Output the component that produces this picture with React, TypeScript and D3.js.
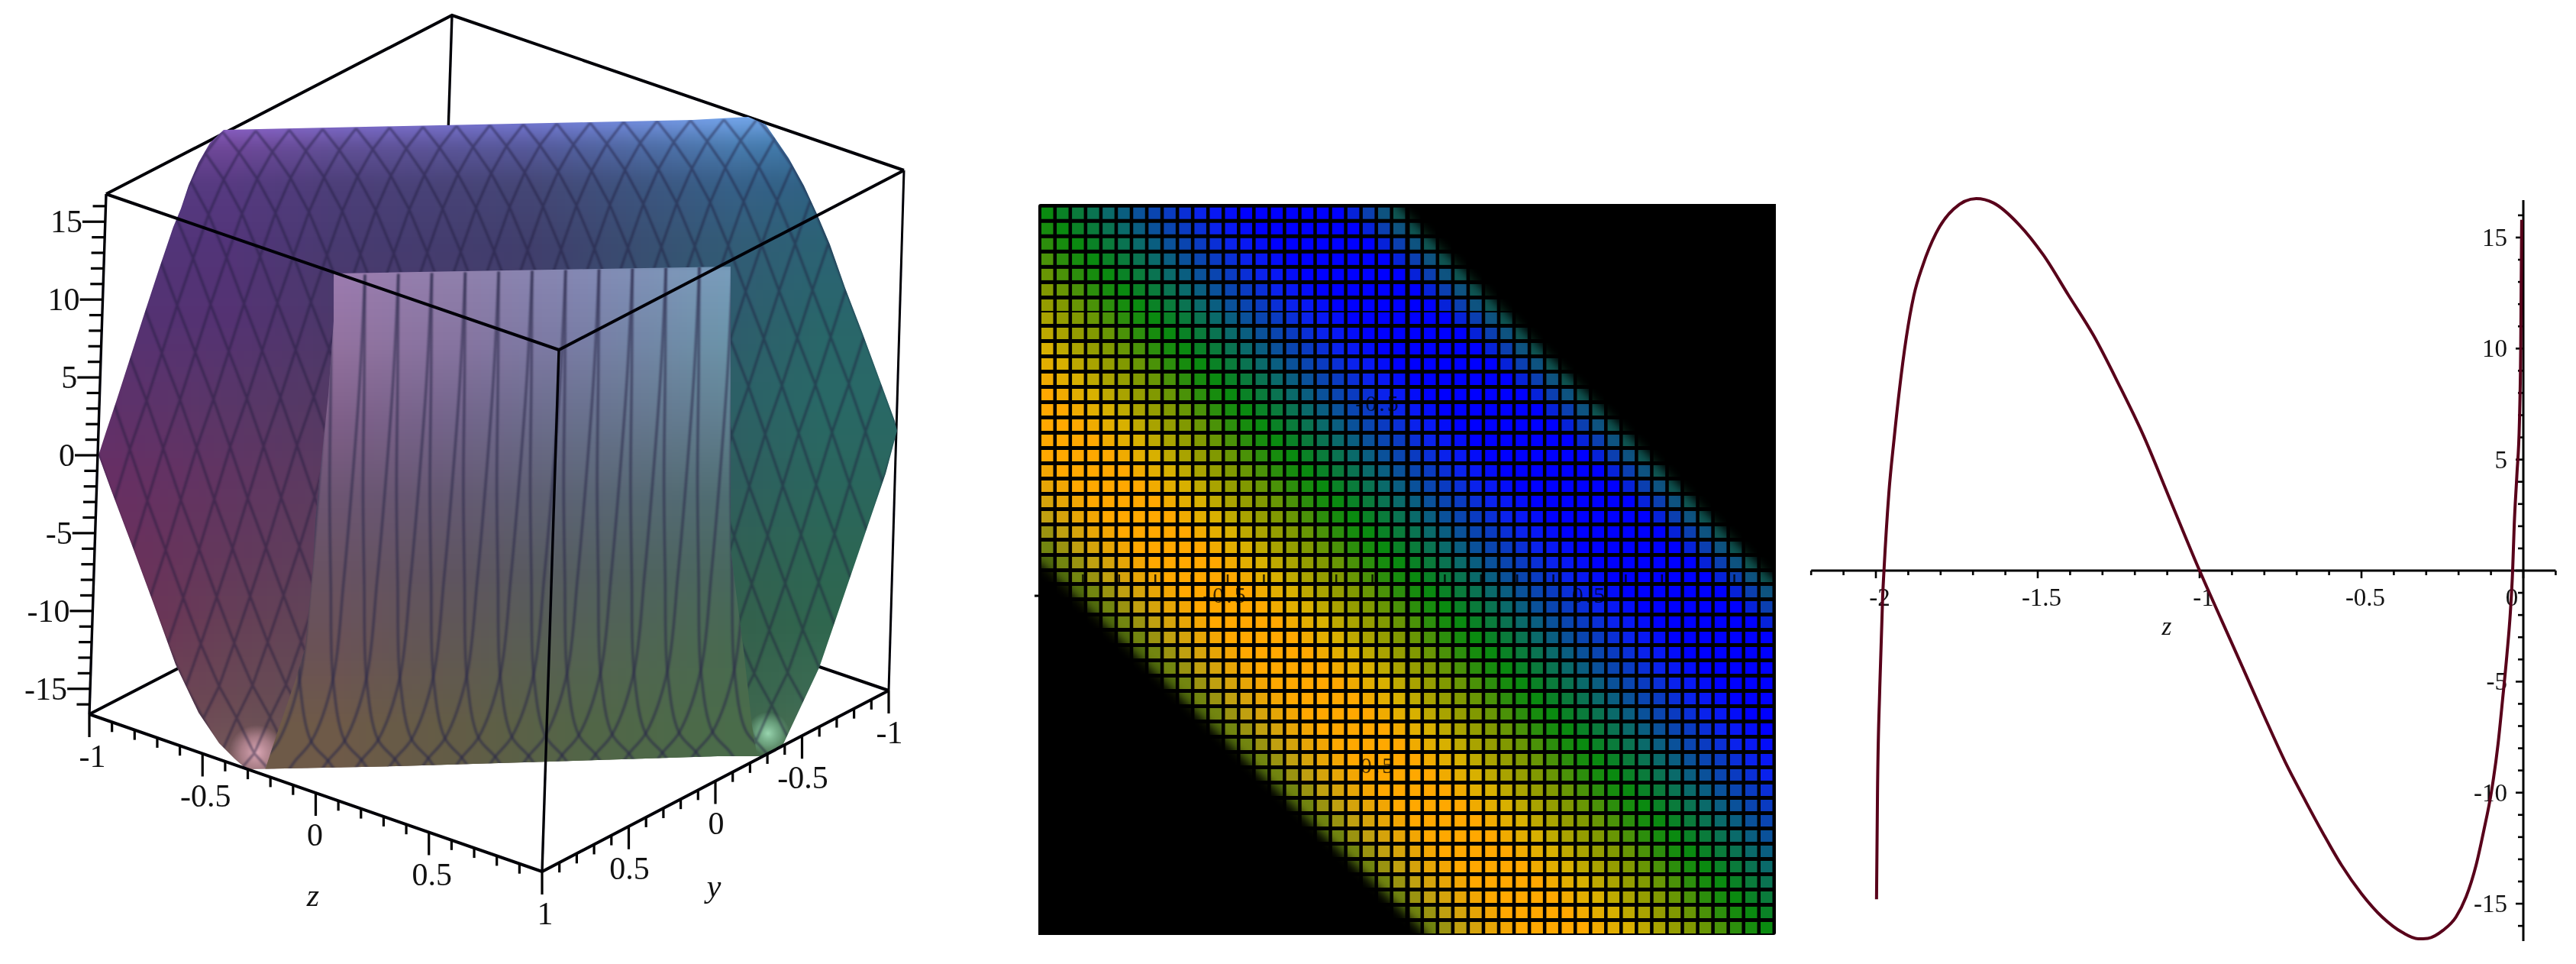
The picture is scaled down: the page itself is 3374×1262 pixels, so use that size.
import React from "react";
import * as d3 from "d3";

// ---------- left panel: 3-D box axes ----------
const boxAxisTicks = [-1, -0.9, -0.8, -0.7, -0.6, -0.5, -0.4, -0.3, -0.2, -0.1, 0, 0.1, 0.2, 0.3, 0.4, 0.5, 0.6, 0.7, 0.8, 0.9, 1];
const boxAxisLabels = [-1, -0.5, 0, 0.5, 1];
const heightTicks = d3.range(-16, 17);
const heightLabels = [-15, -10, -5, 0, 5, 10, 15];

// silhouette of the surface
const outlineX = [293,275,260,247,237,227,209,187,171,153,139,129,145,174,201,230,260,287,307,323,520,720,940,1001,1025,1073,1160,1175,1172,1130,1107,1087,1070,1053,1033,1003,980,907];
const outlineY = [170,187,213,243,273,297,350,417,467,523,565,596,640,717,790,870,933,973,993,1007,1003,997,990,990,976,874,620,564,551,437,377,320,280,243,207,163,153,157];
const innerX = [437,957,957,975,985,992,347,363,387,400,410,413,419,430,437];
const innerY = [358,349,720,860,950,992,1008,960,890,847,740,680,620,517,420];

// mesh crossings
const meshRowY = [172,200,235,280,337,398,460,522,585,653,718,781,842,898,940,987,1012];
const meshRowStart = [335,313,293,317,253,232,212,192,170,193,217,240,263,287,310,333,355];
const innerMeshY = [358,500,640,760,887,967,993,1012];
const innerMeshLeft = [0,-7,-17.5,-28,-42,-70,-92,-105];
const innerMeshRight = [0,-1,-2.5,-1,2,17,39,52];
const innerMeshStart = d3.range(-2, 13).map((k) => 478 + 43.8 * k);

// colour samples of the surface
const outerColX = [120,300,440,700,960,1080,1190];
const outerRowY = [150,190,240,320,420,520,620,720,820,920,1010];
const outerColours = [
  ["#9a70e0","#9a70e0","#8a74e0","#7a80e0","#78a8f0","#70a8e8","#70a8e8"],
  ["#70489a","#70489a","#625098","#565a9c","#4a7cb0","#3a78a8","#3a78a8"],
  ["#563a80","#563a80","#4c3e78","#444676","#366088","#2f6284","#2f6284"],
  ["#523478","#523478","#483a70","#403e6c","#325c76","#2b6274","#2b6274"],
  ["#543272","#543272","#4c386a","#42406a","#2e5c6c","#29666a","#29666a"],
  ["#5e306c","#583668","#523964","#4c406a","#2c6066","#296866","#296866"],
  ["#672e64","#603562","#5a3b60","#52405e","#2e5e5e","#2a665e","#2a665e"],
  ["#6c2e5c","#62385c","#5e3f5c","#56445c","#306054","#2c6654","#2c6654"],
  ["#6e2e56","#663f56","#604656","#584b56","#34604c","#2f664e","#2f664e"],
  ["#703e54","#6a4a54","#644f54","#5c5054","#3a644c","#3e6c54","#3e6c54"],
  ["#7a5060","#765a5a","#6c5850","#5e5a48","#4a6c4a","#5a7a55","#5a7a55"],
];
const innerColX = [340,440,600,760,960,1000];
const innerRowY = [350,450,550,650,750,850,950,1010];
const innerColours = [
  ["#9c7cb0","#9c7cb0","#9080ac","#8488b4","#789ebc","#789ebc"],
  ["#92729f","#92729f","#8674a0","#787ca4","#6a94a8","#6a94a8"],
  ["#7e5f88","#7e5f88","#72648a","#68708c","#608090","#608090"],
  ["#6c5572","#6c5572","#645972","#5b6474","#4e6e72","#4e6e72"],
  ["#685262","#685262","#5e5460","#545e60","#48685e","#48685e"],
  ["#6a5256","#6a5256","#605853","#546253","#486a50","#486a50"],
  ["#6e5a48","#6e5a48","#625c46","#526547","#4a6c4a","#4a6c4a"],
  ["#6e5a48","#6e5a48","#625c46","#526547","#4a6c4a","#4a6c4a"],
];

// ---------- middle panel: density grid ----------
const gridCols = d3.range(48);
const gridRows = d3.range(48);
// one value per diagonal (column - row), from -47 to 47
const diagonalValues = [
  -2,-2,-2,-2,-2,-2,-2,-2,-2,-2,-2,-2,-2,-2,-2,-2,-2,-2,-2,-2,-2,-2,-2,
  -1.8,-1.6,-1.5,-1.4,-1.3,-1.2,-1.12,-1.06,-1,-1,-1,-1,-1,-0.85,-0.7,-0.6,-0.5,-0.42,-0.34,-0.28,-0.22,-0.15,-0.08,-0.03,
  0,
  0.06,0.12,0.18,0.25,0.33,0.42,0.5,0.58,0.68,0.78,0.85,0.92,1,1,1,1,1,1,1,1.15,1.3,1.45,1.6,1.8,
  2,2,2,2,2,2,2,2,2,2,2,2,2,2,2,2,2,2,2,2,2,2,2,
];
const colourStops = [-2,-1.8,-1.55,-1.3,-1,-0.6,-0.3,0,0.25,0.5,0.8,1,1.25,1.55,1.8,2];
const colourValues = ["#000000","#202a00","#607f10","#c0a010","#ffa800","#d8b000","#8a9a00","#0a8a10","#0a6a6a","#0a45b0","#0a20f0","#0000ff","#0a38c0","#106060","#0a3020","#000000"];
const midTicks = [-0.9,-0.8,-0.7,-0.6,-0.5,-0.4,-0.3,-0.2,-0.1,0.1,0.2,0.3,0.4,0.5,0.6,0.7,0.8,0.9];
const midLabels = [
  { text: "-0.5", u: -0.5, v: 0 },
  { text: "0.5", u: 0.5, v: 0 },
  { text: "-0.5", u: 0, v: 0.5 },
  { text: "0.5", u: 0, v: -0.5 },
];

// ---------- right panel: curve ----------
const curveZ = [-1.998,-1.995,-1.988,-1.979,-1.975,-1.96,-1.944,-1.906,-1.883,-1.855,-1.814,-1.76,-1.69,-1.637,-1.559,-1.482,-1.405,-1.328,-1.25,-1.174,-1.097,-1,-0.932,-0.868,-0.802,-0.736,-0.672,-0.618,-0.561,-0.5,-0.436,-0.373,-0.325,-0.295,-0.248,-0.208,-0.177,-0.146,-0.122,-0.099,-0.078,-0.064,-0.051,-0.04,-0.033,-0.028,-0.02,-0.012,-0.008,-0.005];
const curveF = [-14.8,-10,-5.3,-1.14,0,3.47,5.9,10.5,12.37,13.75,15.2,16.28,16.75,16.56,15.6,14.2,12.4,10.6,8.4,6.1,3.4,0,-2.24,-4.33,-6.5,-8.6,-10.4,-11.85,-13.28,-14.55,-15.6,-16.3,-16.58,-16.56,-16.2,-15.6,-14.7,-13.27,-11.7,-10,-7.8,-5.8,-3.84,-1.87,0,2.08,4.28,6.7,10,15.8];
const xTicksRight = d3.range(-22, 2).map((d) => d / 10);
const xLabelsRight = [-2, -1.5, -1, -0.5, 0];
const yTicksRight = d3.range(-16, 17);
const yLabelsRight = [-15, -10, -5, 5, 10, 15];

const FONT = "'Liberation Serif', serif";

const toColumn = (rows: string[][], i: number) => rows.map((r) => r[i]);
function colourField(colX: number[], rowY: number[], table: string[][]) {
  const columns = colX.map((_, i) =>
    d3.scaleLinear<string>().domain(rowY).range(toColumn(table, i)).interpolate(d3.interpolateRgb).clamp(true)
  );
  return (x: number, y: number) => {
    const across = d3.scaleLinear<string>().domain(colX).range(columns.map((c) => c(y))).interpolate(d3.interpolateRgb).clamp(true);
    return across(x);
  };
}
const polyPath = (xs: number[], ys: number[]) =>
  d3.line<number>().x((d) => xs[d]).y((d) => ys[d]).curve(d3.curveLinearClosed)(d3.range(xs.length)) as string;

export default function App() {
  // projection scales of the box
  const zX = d3.scaleLinear().domain([-1, 1]).range([117, 710]);
  const zY = d3.scaleLinear().domain([-1, 1]).range([935, 1141]);
  const yX = d3.scaleLinear().domain([-1, 1]).range([1164, 710]);
  const yY = d3.scaleLinear().domain([-1, 1]).range([904, 1141]);
  const wX = d3.scaleLinear().domain([-16.68, 16.68]).range([117, 139]);
  const wY = d3.scaleLinear().domain([-16.68, 16.68]).range([936, 256]);
  const tilt = d3.scaleLinear().domain([300, 1300]).range([0, -24]);

  const outerField = colourField(outerColX, outerRowY, outerColours);
  const innerField = colourField(innerColX, innerRowY, innerColours);
  const patches = (x0: number, x1: number, y0: number, y1: number, f: (x: number, y: number) => string, key: string) =>
    d3.range(x0, x1, 10).flatMap((x) =>
      d3.range(y0, y1, 10).map((y) => <rect key={`${key}${x}-${y}`} x={x} y={y} width={11} height={11} fill={f(x + 5, y + 5)} />)
    );

  const SPACING = 43.8;
  const rowNodes = meshRowStart.map((s) => d3.range(-8, 28).map((k) => s + SPACING * k));
  const meshPath = d3.path();
  rowNodes.slice(0, -1).forEach((nodes, i) => {
    nodes.forEach((a) =>
      rowNodes[i + 1].forEach((b) => {
        if (Math.abs(a - b) < 33) {
          meshPath.moveTo(a, meshRowY[i] + tilt(a));
          meshPath.lineTo(b, meshRowY[i + 1] + tilt(b));
        }
      })
    );
  });
  const innerCurve = d3.line<[number, number]>().curve(d3.curveCatmullRom);
  const innerPaths = innerMeshStart.flatMap((x0) =>
    [innerMeshLeft, innerMeshRight].map((off) =>
      innerCurve(innerMeshY.map((y, i) => [x0 + off[i], y + tilt(x0 + off[i]) + 5.8] as [number, number])) as string
    )
  );

  // mid grid
  const colX = d3.scaleLinear().domain([0, 47]).range([1364, 2306]);
  const rowY = d3.scaleLinear().domain([0, 6, 7, 24, 25, 47]).range([271.7, 392, 409, 749, 767, 1207]);
  const cellColour = d3.scaleLinear<string>().domain(colourStops).range(colourValues).interpolate(d3.interpolateRgb);
  const midU = d3.scaleLinear().domain([-1, 1]).range([1371, 2319]);
  const midV = d3.scaleLinear().domain([-1, 1]).range([1238, 290]);

  // right panel
  const rx = d3.scaleLinear().domain([-2.2, 0.1]).range([3305 - 2.2 * 424, 3305 + 0.1 * 424]);
  const ry = d3.scaleLinear().domain([-16.68, 16.68]).range([747 + 16.68 * 29.07, 747 - 16.68 * 29.07]);
  const curve = d3.line<number>().x((d) => rx(curveZ[d])).y((d) => ry(curveF[d])).curve(d3.curveMonotoneX)(d3.range(curveZ.length)) as string;

  const BOX = "#000008";
  return (
    <svg width={3374} height={1262} viewBox="0 0 3374 1262" style={{ position: "absolute", left: 0, top: 0, background: "#fff" }} fontFamily={FONT}>
      <defs>
        <filter id="soft" x="-2%" y="-2%" width="104%" height="104%" colorInterpolationFilters="sRGB"><feGaussianBlur stdDeviation="0.7" /></filter>
        <filter id="softer" x="-2%" y="-2%" width="104%" height="104%" colorInterpolationFilters="sRGB"><feGaussianBlur stdDeviation="5" /></filter>
        <filter id="meshBlur" x="-2%" y="-2%" width="104%" height="104%" colorInterpolationFilters="sRGB"><feGaussianBlur stdDeviation="1" /></filter>
        <filter id="cornerBlur" x="-5%" y="-5%" width="110%" height="110%" colorInterpolationFilters="sRGB"><feGaussianBlur stdDeviation="7" /></filter>
        <clipPath id="outer"><path d={polyPath(outlineX, outlineY)} /></clipPath>
        <clipPath id="inner"><path d={polyPath(innerX, innerY)} /></clipPath>
        <clipPath id="outerMesh"><path clipRule="evenodd" d={polyPath(outlineX, outlineY) + polyPath(innerX, innerY)} /></clipPath>
        <clipPath id="square"><rect x={1360} y={267} width={966} height={957} /></clipPath>
        <radialGradient id="spotL"><stop offset="0" stopColor="#f0b8c8" stopOpacity="0.85" /><stop offset="0.55" stopColor="#d8a0b0" stopOpacity="0.55" /><stop offset="1" stopColor="#d8a0b0" stopOpacity="0" /></radialGradient>
        <radialGradient id="spotR"><stop offset="0" stopColor="#a8e8c0" stopOpacity="0.85" /><stop offset="0.55" stopColor="#88c8a0" stopOpacity="0.55" /><stop offset="1" stopColor="#88c8a0" stopOpacity="0" /></radialGradient>
      </defs>

      <g filter="url(#soft)">
        {/* back edges of the box */}
        <g stroke={BOX} fill="none">
          <path strokeWidth={4} d={d3.line()([[139, 254], [592, 20], [1184, 223]]) as string} />
          <path strokeWidth={3.4} d={d3.line()([[592, 20], [570, 701]]) as string} />
          <path strokeWidth={4} d={d3.line()([[117, 935], [570, 701], [1164, 904]]) as string} />
          <path strokeWidth={3} d={d3.line()([[1184, 223], [1164, 904]]) as string} />
        </g>

        {/* surface */}
        <g clipPath="url(#outer)">
          <g filter="url(#softer)">{patches(100, 1200, 140, 1020, outerField, "o")}</g>
          <circle cx={336} cy={985} r={36} fill="url(#spotL)" />
          <circle cx={1006} cy={960} r={28} fill="url(#spotR)" />
          <g filter="url(#meshBlur)" clipPath="url(#outerMesh)">
            <path d={meshPath.toString()} fill="none" stroke="#1e1a3c" strokeOpacity={0.45} strokeWidth={3.2} />
          </g>
          <g clipPath="url(#inner)">
            <g filter="url(#softer)">{patches(340, 1000, 345, 1015, innerField, "i")}</g>
            <g fill="none" stroke="#2a2848" strokeOpacity={0.55} strokeWidth={3.6} filter="url(#meshBlur)">
              {innerPaths.map((d, i) => <path key={i} d={d} />)}
            </g>
          </g>
        </g>

        {/* front edges */}
        <g stroke={BOX} fill="none">
          <path strokeWidth={4} d={d3.line()([[139, 254], [732, 458], [1184, 223]]) as string} />
          <path strokeWidth={3.4} d={d3.line()([[732, 458], [710, 1141]]) as string} />
          <path strokeWidth={3.4} d={d3.line()([[139, 254], [117, 935]]) as string} />
          <path strokeWidth={4} d={d3.line()([[117, 935], [710, 1141], [1164, 904]]) as string} />
        </g>

        {/* height axis */}
        {heightTicks.map((v) => (
          <line key={`h${v}`} x1={wX(v)} x2={wX(v) - (v % 5 === 0 ? 30 : 17)} y1={wY(v)} y2={wY(v)} stroke="#000" strokeWidth={3.2} />
        ))}
        {heightLabels.map((v) => (
          <text key={`hl${v}`} x={wX(v) - 30} y={wY(v)} fontSize={42} textAnchor="end" dominantBaseline="central" fill="#111">
            {v < 0 ? `-${-v}` : v}
          </text>
        ))}
        {/* z axis */}
        {boxAxisTicks.map((v) => {
          const major = boxAxisLabels.includes(v);
          return <line key={`z${v}`} x1={zX(v)} x2={zX(v)} y1={zY(v)} y2={zY(v) + (major ? 30 : 13)} stroke="#000" strokeWidth={3.2} />;
        })}
        {boxAxisLabels.map((v) => (
          <text key={`zl${v}`} x={zX(v) + (v === 0 ? -1 : 4)} y={zY(v) + 55} fontSize={42} textAnchor="middle" dominantBaseline="central" fill="#111">{v}</text>
        ))}
        <text x={410} y={1172} fontSize={42} fontStyle="italic" textAnchor="middle" dominantBaseline="central" fill="#111">z</text>
        {/* y axis */}
        {boxAxisTicks.map((v) => {
          const major = boxAxisLabels.includes(v);
          return v === 1 ? null : <line key={`y${v}`} x1={yX(v)} x2={yX(v)} y1={yY(v)} y2={yY(v) + (major ? 30 : 13)} stroke="#000" strokeWidth={3.2} />;
        })}
        {boxAxisLabels.filter((v) => v !== 1).map((v) => (
          <text key={`yl${v}`} x={yX(v) + 1} y={yY(v) + 55} fontSize={42} textAnchor="middle" dominantBaseline="central" fill="#111">{v}</text>
        ))}
        <text x={935} y={1160} fontSize={42} fontStyle="italic" textAnchor="middle" dominantBaseline="central" fill="#111">y</text>

        {/* density grid */}
        <rect x={1360} y={267} width={966} height={957} rx={3} fill="#000" />
        {gridRows.map((r) =>
          gridCols.map((c) => (
            <rect key={`c${r}-${c}`} x={colX(c)} y={rowY(r)} width={15.5} height={r === 24 ? 13 : 15} fill={cellColour(diagonalValues[c - r + 47])} />
          ))
        )}
        <g clipPath="url(#square)">
          <path filter="url(#cornerBlur)" fill="#000" d={d3.line()([[1830, 267], [2326, 762], [2420, 762], [2420, 170], [1830, 170]]) as string} />
          <path filter="url(#cornerBlur)" fill="#000" d={d3.line()([[1360, 735], [1870, 1224], [1870, 1320], [1260, 1320], [1260, 735]]) as string} />
        </g>
        <line x1={1845} x2={1845} y1={267} y2={1224} stroke="#000" strokeWidth={3} />
        <line x1={1360} x2={2326} y1={764} y2={764} stroke="#000" strokeWidth={3} />
        <line x1={1355} x2={1362} y1={780} y2={780} stroke="#000" strokeWidth={3} />
        {midTicks.map((t) => (
          <line key={`mt${t}`} x1={midU(t)} x2={midU(t)} y1={752} y2={764} stroke="#000" strokeWidth={2.5} strokeOpacity={0.8} />
        ))}
        {midLabels.map((l, i) => (
          <text key={i} x={l.v === 0 ? midU(l.u) + (l.u < 0 ? -3 : 0) : 1805} y={l.v === 0 ? 778 : midV(l.v)} fontSize={30} letterSpacing={3} textAnchor="middle" dominantBaseline="central" fill="#000" fillOpacity={0.75}>
            {l.text}
          </text>
        ))}

        {/* right plot */}
        <line x1={rx(-2.2)} x2={rx(0.1)} y1={ry(0)} y2={ry(0)} stroke="#000" strokeWidth={3.2} />
        <line x1={rx(0)} x2={rx(0)} y1={262} y2={1232} stroke="#000" strokeWidth={3} />
        {xTicksRight.map((t) => (
          <line key={`rx${t}`} x1={rx(t)} x2={rx(t)} y1={ry(0)} y2={ry(0) + (Number.isInteger(t * 2) ? 10 : 6)} stroke="#000" strokeWidth={2.6} />
        ))}
        {yTicksRight.map((t) => (
          <line key={`ry${t}`} x1={rx(0)} x2={rx(0) - (t % 5 === 0 ? 10 : 7)} y1={ry(t)} y2={ry(t)} stroke="#000" strokeWidth={2.6} />
        ))}
        {xLabelsRight.map((t) => (
          <text key={`rxl${t}`} x={rx(t) + (t === 0 ? -15 : 5)} y={782} fontSize={33} textAnchor="middle" dominantBaseline="central" fill="#111">{t}</text>
        ))}
        {yLabelsRight.map((t) => (
          <text key={`ryl${t}`} x={3284} y={ry(t)} fontSize={33} textAnchor="end" dominantBaseline="central" fill="#111">{t}</text>
        ))}
        <text x={2838} y={820} fontSize={33} fontStyle="italic" textAnchor="middle" dominantBaseline="central" fill="#111">z</text>
        <path d={curve} fill="none" stroke="#58001a" strokeWidth={4} />
      </g>
    </svg>
  );
}
